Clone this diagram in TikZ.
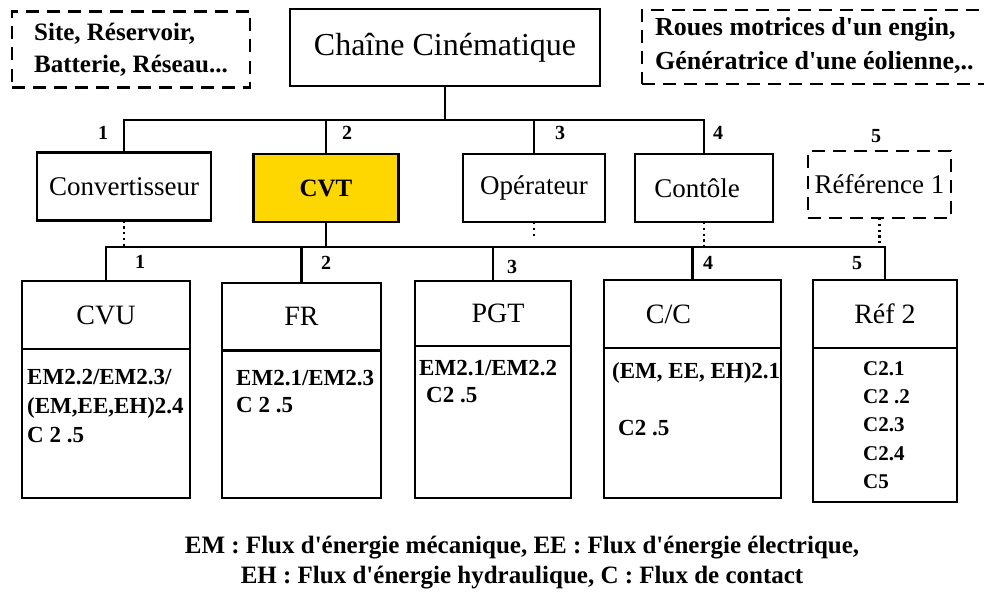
\documentclass[tikz,border=0pt]{standalone}
\usepackage{fontspec}
\setmainfont{Liberation Serif}
\usetikzlibrary{positioning}
\definecolor{cvtgold}{RGB}{255,215,0}
\newcommand{\apos}{\textquotesingle}

\begin{document}
\begin{tikzpicture}[x=1pt, y=-1pt,
    box/.style={draw=black, line width=2.8pt, inner sep=0pt, outer sep=0pt, font=\fontsize{27}{30}\selectfont},
    dashbox/.style={box, dash pattern=on 13pt off 8pt},
    headbox/.style={box, minimum height=68pt, font=\fontsize{28}{30}\selectfont},
    bodybox/.style={box},
    sidetext/.style={inner sep=0pt, align=left, font=\bfseries\fontsize{25}{32}\selectfont},
    bodytext/.style={anchor=north west, inner sep=0pt, align=left, font=\bfseries\fontsize{23}{29}\selectfont},
    numlabel/.style={inner sep=0pt, font=\bfseries\fontsize{20}{20}\selectfont},
    link/.style={line width=2.8pt},
    dotlink/.style={line width=2.6pt, dash pattern=on 2.2pt off 3.6pt},
  ]
  \useasboundingbox (0,0) rectangle (984,594);

  % top row
  \node[box, minimum width=310pt, minimum height=77pt, font=\fontsize{32}{34}\selectfont] (chaine) at (445,47.5) {Chaîne Cinématique};
  \node[dashbox, sidetext, minimum width=238pt, minimum height=76pt] (source) at (131,49.5) {Site, Réservoir,\\Batterie, Réseau...};
  \node[dashbox, minimum width=352pt, minimum height=74pt] (usage) at (818,47) {};
  \node[sidetext, anchor=west, font=\bfseries\fontsize{26}{34}\selectfont] (usagetext) at (655,45.5) {Roues motrices d\apos un engin,\\Génératrice d\apos une éolienne,..};

  % second row
  \node[box, minimum width=174pt, minimum height=68pt] (conv) at (124,186.5) {Convertisseur};
  \node[box, fill=cvtgold, minimum width=145pt, minimum height=68pt, font=\bfseries\fontsize{25}{30}\selectfont] (cvt) at (326,188) {CVT};
  \node[box, minimum width=142pt, minimum height=68pt] (oper) at (534,188) {Opérateur};
  \node[box, minimum width=138pt, minimum height=68pt] (cont) at (704,188) {Contôle\hspace{14pt}\mbox{}};
  \node[dashbox, minimum width=143pt, minimum height=67pt] (ref1) at (879.5,184.5) {Référence 1};

  % third row
  \node[headbox, minimum width=168pt] (cvu) at (106,315) {CVU};
  \node[bodybox, minimum width=168pt, minimum height=149pt, below=0pt of cvu] (cvubody) {};
  \node[headbox, minimum width=159pt, minimum height=67.5pt] (fr) at (301.5,316.75) {FR};
  \node[bodybox, minimum width=159pt, minimum height=147.5pt, below=0pt of fr] (frbody) {};
  \node[headbox, minimum width=156pt, minimum height=65pt] (pgt) at (493,313.5) {\hspace{10pt}PGT};
  \node[bodybox, minimum width=156pt, minimum height=152pt, below=0pt of pgt] (pgtbody) {};
  \node[headbox, minimum width=177pt] (cc) at (692.5,314) {C/C\hspace{48pt}\mbox{}};
  \node[bodybox, minimum width=177pt, minimum height=150pt, below=0pt of cc] (ccbody) {};
  \node[headbox, minimum width=144pt] (ref2) at (885,314) {Réf 2};
  \node[bodybox, minimum width=144pt, minimum height=154pt, below=0pt of ref2] (ref2body) {};

  \node[bodytext] (cvutext) at (27,369) {EM2.2/EM2.3/\\(EM,EE,EH)2.4\\C 2 .5};
  \node[bodytext, font=\bfseries\fontsize{23}{27}\selectfont] (frtext) at (236,370) {EM2.1/EM2.3\\C 2 .5};
  \node[bodytext, font=\bfseries\fontsize{23}{27}\selectfont] (pgttext) at (419,360) {EM2.1/EM2.2\\\hspace*{7pt}C2 .5};
  \node[bodytext] (cctext) at (612,362.5) {(EM, EE, EH)2.1\\[28pt]\hspace*{6pt}C2 .5};
  \node[bodytext, font=\bfseries\fontsize{21}{28.3}\selectfont] (ref2text) at (863,361) {C2.1\\C2 .2\\C2.3\\C2.4\\C5};

  % connectors
  \coordinate (busA) at (444,120);
  \coordinate (busB) at (326,247);
  \coordinate (operend) at (534,238);
  \draw[link] (chaine.south) -- (chaine.south |- busA);
  \draw[link] (conv.north) |- (busA) -| (cont.north);
  \draw[link] (cvt.north) -- (cvt.north |- busA);
  \draw[link] (oper.north) -- (oper.north |- busA);
  \draw[link] (cvt.south) -- (busB);
  \draw[link] (cvu.north) |- (busB) -| (ref2.north);
  \draw[link] (fr.north) -- (fr.north |- busB);
  \draw[link] (pgt.north) -- (pgt.north |- busB);
  \draw[link] (cc.north) -- (cc.north |- busB);
  \draw[dotlink] (conv.south) -- (conv.south |- busB);
  \draw[dotlink] (oper.south) -- (operend);
  \draw[dotlink] (cont.south) -- (cont.south |- busB);
  \draw[dotlink] (ref1.south) -- (ref1.south |- busB);

  % numbers
  \node[numlabel] (na1) at (103,133) {1};
  \node[numlabel] (na2) at (347,133) {2};
  \node[numlabel] (na3) at (560,133) {3};
  \node[numlabel] (na4) at (718,133) {4};
  \node[numlabel] (na5) at (876,136) {5};
  \node[numlabel] (nb1) at (140,262) {1};
  \node[numlabel] (nb2) at (326,263) {2};
  \node[numlabel] (nb3) at (512,267) {3};
  \node[numlabel] (nb4) at (708,263) {4};
  \node[numlabel] (nb5) at (857,263) {5};

  % legend
  \node[align=center, inner sep=0pt, font=\bfseries\fontsize{25}{30}\selectfont] (legende) at (522,563) {EM : Flux d\apos énergie mécanique, EE : Flux d\apos énergie électrique,\\EH : Flux d\apos énergie hydraulique, C : Flux de contact};
\end{tikzpicture}
\end{document}
